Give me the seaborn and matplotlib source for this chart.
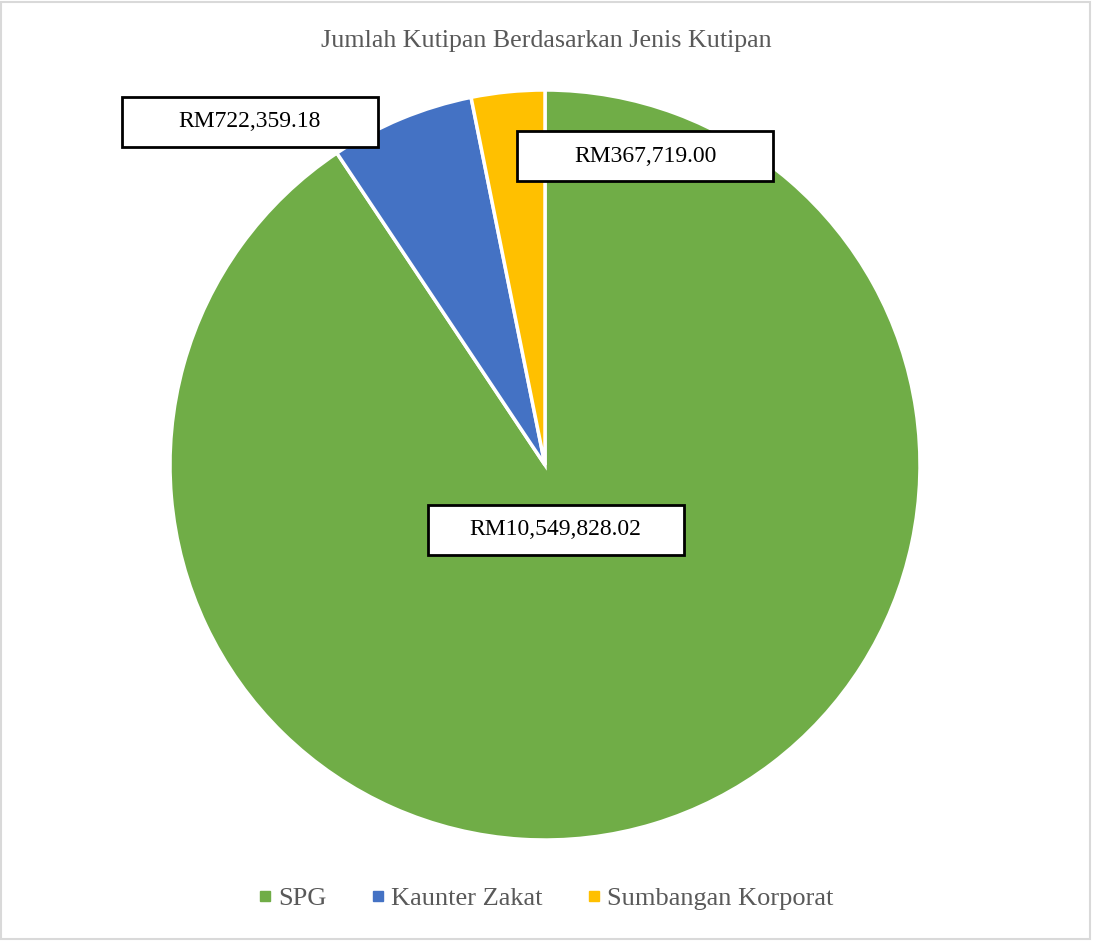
import matplotlib
matplotlib.use("Agg")
import matplotlib.pyplot as plt
from matplotlib.lines import Line2D
from matplotlib.patches import Rectangle
import seaborn as sns

# data
categories = ['SPG', 'Kaunter Zakat', 'Sumbangan Korporat']
amounts = [10549828.02, 722359.18, 367719.00]
labels = ['RM10,549,828.02', 'RM722,359.18', 'RM367,719.00']
colors = ['#70AD47', '#4472C4', '#FFC000']

sns.set_theme(style='white')
plt.rcParams['font.family'] = ['Liberation Serif', 'DejaVu Serif']

W, H = 1093, 941
fig = plt.figure(figsize=(W / 100, H / 100), dpi=100)

# pie centre (545, 465) px, radius 375 px
cx, cy, r = 545, 465, 375
ax = fig.add_axes([(cx - r) / W, 1 - (cy + r) / H, 2 * r / W, 2 * r / H])
wedges, _ = ax.pie(amounts, colors=colors, startangle=90, counterclock=False,
                   radius=1.0, wedgeprops=dict(edgecolor='white', linewidth=2.5))
ax.set_xlim(-1, 1)
ax.set_ylim(-1, 1)
ax.set_aspect('equal')
ax.axis('off')

# data label boxes (centres in pie units), fixed box size like Excel
label_pos = [(0.028, -0.173), (-0.787, 0.915), (0.267, 0.824)]
bw, bh = 256 / r, 50 / r
for lab, (x, y) in zip(labels, label_pos):
    ax.add_patch(Rectangle((x - bw / 2, y - bh / 2), bw, bh, facecolor='white',
                           edgecolor='black', linewidth=2, zorder=5,
                           clip_on=False))
    ax.text(x, y, lab, ha='center', va='center', fontsize=17, color='black',
            zorder=6, clip_on=False)

fig.text(0.5, 1 - 41 / H, 'Jumlah Kutipan Berdasarkan Jenis Kutipan',
         ha='center', va='center', fontsize=18.7, color='#595959')

handles = [Line2D([], [], marker='s', linestyle='none', markersize=6.5,
                  markerfacecolor=c, markeredgecolor=c) for c in colors]
fig.legend(handles, categories, loc='center', bbox_to_anchor=(0.499, 1 - 898 / H),
           ncol=3, frameon=False, fontsize=19, handletextpad=0.2,
           handlelength=0.6, columnspacing=1.65, labelcolor='#595959')

fig.patches.append(Rectangle((0.5 / W, 2 / H), 1089 / W, 937 / H,
                             transform=fig.transFigure, fill=False,
                             edgecolor='#D9D9D9', linewidth=1.5))

fig.savefig('out.png', dpi=100)
